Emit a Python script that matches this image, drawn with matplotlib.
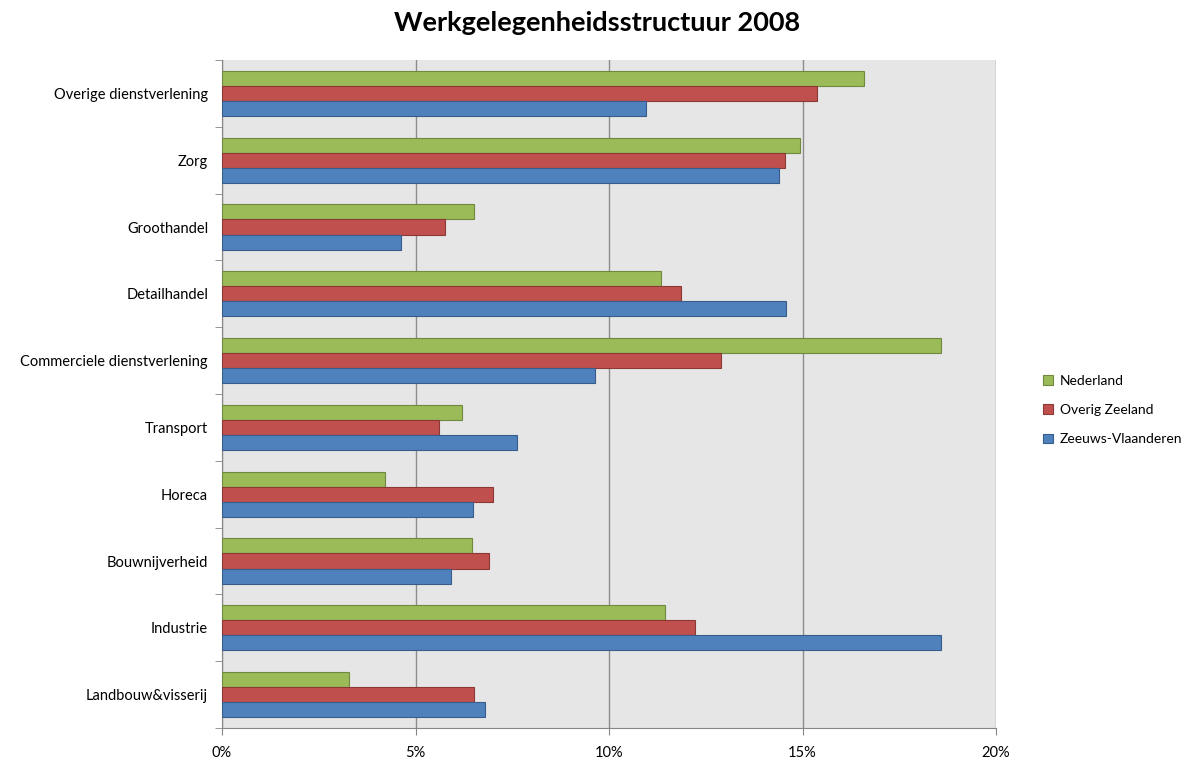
import matplotlib
matplotlib.use("Agg")
import matplotlib.pyplot as plt
import numpy as np

plt.rcParams['font.family'] = ['Lato', 'DejaVu Sans']

# categories top to bottom
categories = ["Overige dienstverlening", "Zorg", "Groothandel", "Detailhandel",
              "Commerciele dienstverlening", "Transport", "Horeca", "Bouwnijverheid",
              "Industrie", "Landbouw&visserij"]
nederland = [16.60, 14.93, 6.51, 11.34, 18.59, 6.19, 4.20, 6.46, 11.45, 3.27]
overig_zeeland = [15.38, 14.55, 5.76, 11.86, 12.90, 5.60, 7.00, 6.90, 12.22, 6.52]
zeeuws_vlaanderen = [10.96, 14.39, 4.62, 14.58, 9.64, 7.62, 6.48, 5.91, 18.59, 6.80]
x_ticks = [0, 5, 10, 15, 20]

fig = plt.figure(figsize=(11.9, 7.63), dpi=100)
ax = fig.add_axes([222/1190, 35/763, 774/1190, 668/763])
ax.set_facecolor('#E6E6E6')

y = np.arange(len(categories))
h = 0.225
ax.barh(y - h, nederland, height=h, color='#9BBB59', edgecolor='#71893F', linewidth=0.8,
        label='Nederland', zorder=3)
ax.barh(y, overig_zeeland, height=h, color='#C0504D', edgecolor='#8C3836', linewidth=0.8,
        label='Overig Zeeland', zorder=3)
ax.barh(y + h, zeeuws_vlaanderen, height=h, color='#4F81BD', edgecolor='#385D8A', linewidth=0.8,
        label='Zeeuws-Vlaanderen', zorder=3)

ax.set_xlim(0, 20)
ax.set_ylim(len(categories) - 0.5, -0.5)
ax.set_xticks(x_ticks)
ax.set_xticklabels([f"{t}%" for t in x_ticks], fontsize=10.5)
ax.tick_params(axis='x', length=5, color='#868686', pad=8)
ax.set_yticks(y)
ax.set_yticklabels(categories, fontsize=10.5)
ax.tick_params(axis='y', which='major', length=0, pad=10)
ax.set_yticks(np.arange(len(categories) + 1) - 0.5, minor=True)
ax.tick_params(axis='y', which='minor', length=5, color='#868686')

ax.grid(axis='x', color='#8C8C8C', linewidth=1, zorder=0)
ax.set_axisbelow(True)
for s in ['top', 'right']:
    ax.spines[s].set_visible(False)
for s in ['left', 'bottom']:
    ax.spines[s].set_color('#868686')

ax.legend(loc='center left', bbox_to_anchor=(1.045, 0.476), frameon=False, fontsize=10,
          handlelength=0.7, handleheight=0.7, handletextpad=0.5, labelspacing=1.25)

fig.text(0.502, 1 - 23/763, "Werkgelegenheidsstructuur 2008", ha='center', va='center',
         fontsize=19.5, fontweight='bold')

fig.savefig("out.png", dpi=100)
